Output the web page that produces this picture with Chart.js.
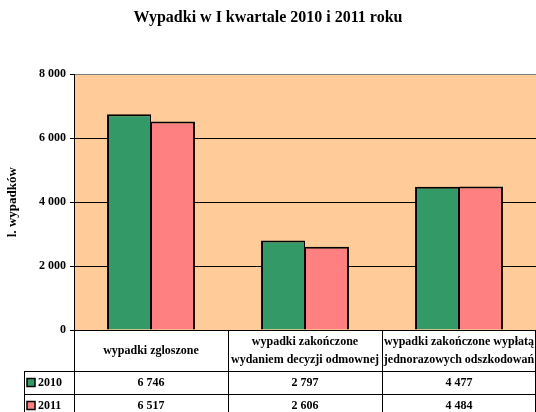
<!DOCTYPE html>
<html>
<head>
<meta charset="utf-8">
<script src="https://cdn.jsdelivr.net/npm/chart.js@4/dist/chart.umd.min.js"></script>
<style>
html,body{margin:0;padding:0;background:#fff;}
#wrap{width:536px;height:412px;position:relative;}
</style>
</head>
<body>
<div id="wrap"><canvas id="c"></canvas></div>
<script>
const categories = [
  ['wypadki zgloszone'],
  ['wypadki zakończone', 'wydaniem decyzji odmownej'],
  ['wypadki zakończone wypłatą', 'jednorazowych odszkodowań']
];
const seriesNames = ['2010', '2011'];
const values2010 = [6746, 2797, 4477];
const values2011 = [6517, 2606, 4484];
const yMin = 0, yMax = 8000, yStep = 2000;
const titleText = 'Wypadki w I kwartale 2010 i 2011 roku';
const yTitle = 'l. wypadków';

const FONT = "'Liberation Serif', 'Times New Roman', serif";
const GREEN = '#339966', PINK = '#FF8080', PEACH = '#FFCC99';

function fmt(v) {
  return String(v).replace(/\B(?=(\d{3})+(?!\d))/g, ' ');
}

const bgPlugin = {
  id: 'plotBg',
  beforeDraw(chart) {
    const {ctx, chartArea: a} = chart;
    ctx.save();
    ctx.fillStyle = PEACH;
    ctx.fillRect(a.left, a.top, a.right - a.left, a.bottom - a.top);
    ctx.restore();
  }
};

const tablePlugin = {
  id: 'dataTable',
  afterDraw(chart) {
    const {ctx, chartArea: a} = chart;
    const x = chart.scales.x;
    const n = categories.length;
    const step = x.getPixelForValue(1) - x.getPixelForValue(0);
    const top = a.bottom;
    const hdrBottom = top + 41;
    const rowH = 23;
    const bottom = chart.height;
    const leftCol = 24;
    const series = [values2010, values2011];
    const colors = [GREEN, PINK];
    ctx.save();
    ctx.strokeStyle = '#000';
    ctx.lineWidth = 1;
    ctx.beginPath();
    ctx.moveTo(a.left, Math.round(top) + 0.5);
    ctx.lineTo(a.right, Math.round(top) + 0.5);
    for (let i = 0; i <= n; i++) {
      let px = i < n ? x.getPixelForValue(i) - step / 2 : x.getPixelForValue(n - 1) + step / 2;
      px = Math.min(Math.round(px), chart.width - 1) + 0.5;
      ctx.moveTo(px, top);
      ctx.lineTo(px, bottom);
    }
    ctx.moveTo(leftCol + 0.5, hdrBottom);
    ctx.lineTo(leftCol + 0.5, bottom);
    for (let r = 0; r < series.length; r++) {
      const yy = hdrBottom + r * rowH + 0.5;
      ctx.moveTo(leftCol, yy);
      ctx.lineTo(a.right, yy);
    }
    ctx.stroke();

    ctx.fillStyle = '#000';
    ctx.textAlign = 'center';
    ctx.textBaseline = 'middle';
    ctx.font = 'bold 12px ' + FONT;
    for (let i = 0; i < n; i++) {
      const cx = x.getPixelForValue(i);
      const lines = categories[i];
      const lh = 18;
      const cy = (top + hdrBottom) / 2;
      lines.forEach((t, k) => {
        ctx.fillText(t, cx, cy + (k - (lines.length - 1) / 2) * lh);
      });
    }
    for (let r = 0; r < series.length; r++) {
      const cy = hdrBottom + r * rowH + rowH / 2;
      ctx.fillStyle = colors[r];
      ctx.fillRect(leftCol + 3, cy - 4, 8, 8);
      ctx.strokeStyle = '#000';
      ctx.lineWidth = 1.5;
      ctx.strokeRect(leftCol + 3, cy - 4, 8, 8);
      ctx.fillStyle = '#000';
      ctx.textAlign = 'left';
      ctx.fillText(seriesNames[r], leftCol + 14, cy);
      ctx.textAlign = 'center';
      for (let i = 0; i < n; i++) {
        ctx.fillText(fmt(series[r][i]), x.getPixelForValue(i), cy);
      }
    }
    ctx.restore();
  }
};

new Chart(document.getElementById('c'), {
  type: 'bar',
  data: {
    labels: categories,
    datasets: [
      {
        label: seriesNames[0],
        data: values2010,
        backgroundColor: GREEN,
        borderColor: '#000',
        borderWidth: {top: 2, left: 2, right: 1, bottom: 0},
        borderSkipped: false,
        categoryPercentage: 0.571,
        barPercentage: 1.0
      },
      {
        label: seriesNames[1],
        data: values2011,
        backgroundColor: PINK,
        borderColor: '#000',
        borderWidth: {top: 2, left: 1, right: 2, bottom: 0},
        borderSkipped: false,
        categoryPercentage: 0.571,
        barPercentage: 1.0
      }
    ]
  },
  options: {
    responsive: true,
    maintainAspectRatio: false,
    animation: false,
    devicePixelRatio: 1,
    layout: {padding: {left: 0, right: 0, top: 0, bottom: 82}},
    plugins: {
      legend: {display: false},
      tooltip: {enabled: false},
      title: {
        display: true,
        text: titleText,
        color: '#000',
        font: {family: FONT, size: 16, weight: 'bold'},
        padding: {top: 8, bottom: 47}
      }
    },
    scales: {
      x: {
        display: false,
        offset: true
      },
      y: {
        min: yMin,
        max: yMax,
        afterFit(scale) { scale.width = 74; },
        border: {display: true, color: '#000', width: 1},
        grid: {
          color: (c) => (c.tick && c.tick.value === yMax) ? '#808080' : '#000',
          tickColor: '#000',
          tickLength: 4,
          drawTicks: true
        },
        ticks: {
          stepSize: yStep,
          padding: 4,
          color: '#000',
          font: {family: FONT, size: 12, weight: 'bold'},
          callback: (v) => fmt(v)
        },
        title: {
          display: true,
          text: yTitle,
          color: '#000',
          font: {family: FONT, size: 13, weight: 'bold'},
          padding: {top: 5, bottom: 0}
        }
      }
    }
  },
  plugins: [bgPlugin, tablePlugin]
});
</script>
</body>
</html>
